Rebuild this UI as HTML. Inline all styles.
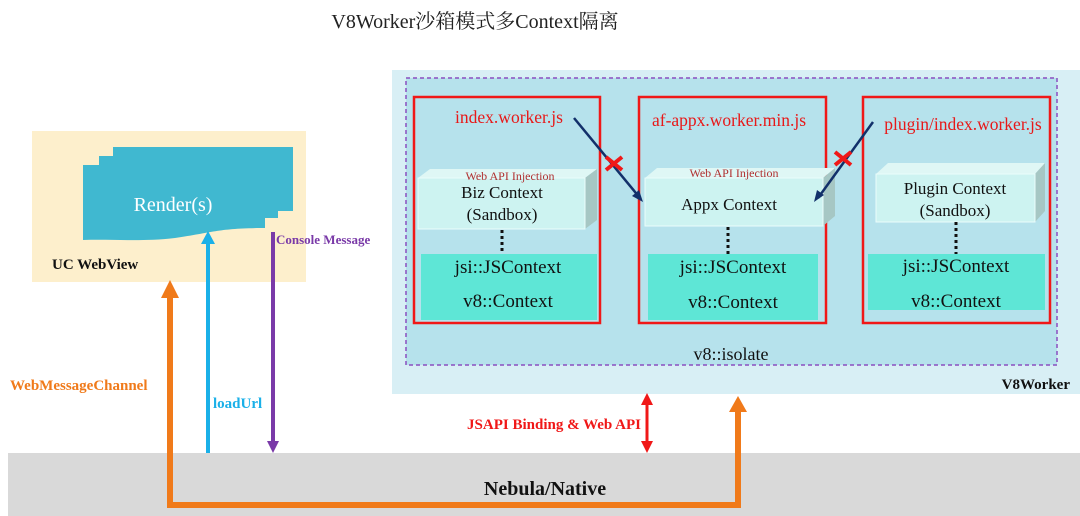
<!DOCTYPE html>
<html><head><meta charset="utf-8"><style>body{margin:0;background:#fff}svg{display:block}</style></head>
<body>
<svg width="1080" height="516" viewBox="0 0 1080 516" xmlns="http://www.w3.org/2000/svg" font-family="'Liberation Serif','Noto Serif CJK SC',serif">
<text x="475" y="28" font-size="20" text-anchor="middle" fill="#222">V8Worker沙箱模式多Context隔离</text>
<rect x="392" y="70" width="688" height="324" fill="#d8eff5"/>
<rect x="406" y="78" width="651" height="287" fill="#b6e2ec" stroke="#8a4fc0" stroke-width="1.5" stroke-dasharray="4,3"/>
<text x="1070" y="389" font-size="15" font-weight="bold" text-anchor="end" fill="#111">V8Worker</text>
<text x="731" y="360" font-size="18" text-anchor="middle" fill="#111">v8::isolate</text>
<g fill="none" stroke="#f01818" stroke-width="2.5">
<rect x="414" y="97" width="186" height="226"/>
<rect x="639" y="97" width="187" height="226"/>
<rect x="863" y="97" width="187" height="226"/>
</g>
<g font-size="17.5" fill="#e81818" text-anchor="middle">
<text x="509" y="123">index.worker.js</text>
<text x="729" y="126">af-appx.worker.min.js</text>
<text x="963" y="130">plugin/index.worker.js</text>
</g>
<g>
<path d="M418,178 L430,169 L597,169 L585,178 z" fill="#dff7f5"/>
<path d="M585,178 L597,169 L597,220 L585,229 z" fill="#a6c7c4"/>
<rect x="418" y="178" width="167" height="51" fill="#cdf3f1" stroke="#eafcfb"/>
<path d="M645,178 L657,168 L835,168 L823,178 z" fill="#dff7f5"/>
<path d="M823,178 L835,168 L835,216 L823,226 z" fill="#a6c7c4"/>
<rect x="645" y="178" width="178" height="48" fill="#cdf3f1" stroke="#eafcfb"/>
<path d="M876,174 L888,163 L1045,163 L1035,174 z" fill="#dff7f5"/>
<path d="M1035,174 L1045,163 L1045,211 L1035,222 z" fill="#a6c7c4"/>
<rect x="876" y="174" width="159" height="48" fill="#cdf3f1" stroke="#eafcfb"/>
</g>
<g font-size="12" fill="#b03030" text-anchor="middle">
<text x="510" y="180">Web API Injection</text>
<text x="734" y="177">Web API Injection</text>
</g>
<g font-size="17" fill="#111" text-anchor="middle">
<text x="502" y="198">Biz Context</text><text x="502" y="220">(Sandbox)</text>
<text x="729" y="210">Appx Context</text>
<text x="955" y="194">Plugin Context</text><text x="955" y="216">(Sandbox)</text>
</g>
<g stroke="#111" stroke-width="3" stroke-dasharray="3,3">
<line x1="502" y1="230" x2="502" y2="254"/>
<line x1="728" y1="227" x2="728" y2="254"/>
<line x1="956" y1="222" x2="956" y2="254"/>
</g>
<g fill="#5ee6d6">
<rect x="421" y="254" width="176" height="66"/>
<rect x="648" y="254" width="170" height="66"/>
<rect x="868" y="254" width="177" height="56"/>
</g>
<g font-size="19" fill="#111" text-anchor="middle">
<text x="508" y="273">jsi::JSContext</text><text x="508" y="307">v8::Context</text>
<text x="733" y="273">jsi::JSContext</text><text x="733" y="308">v8::Context</text>
<text x="956" y="272">jsi::JSContext</text><text x="956" y="307">v8::Context</text>
</g>
<g stroke="#12306a" stroke-width="2.5" fill="none">
<line x1="574" y1="118" x2="640" y2="198"/>
<line x1="873" y1="122" x2="818" y2="198"/>
</g>
<path d="M643,202 L632,196 L639,190 z" fill="#12306a"/>
<path d="M814,202 L817,190 L824,195 z" fill="#12306a"/>
<g stroke="#f01818" stroke-width="4">
<line x1="606" y1="157" x2="622" y2="170"/><line x1="622" y1="157" x2="606" y2="170"/>
<line x1="835" y1="152" x2="851" y2="165"/><line x1="851" y1="152" x2="835" y2="165"/>
</g>
<rect x="32" y="131" width="274" height="151" fill="#fdefcc"/>
<path d="M83,165 L99,165 L99,156 L113,156 L113,147 L293,147 L293,211 L278,211 L278,218 L265,218 L265,228 C220,228 215,232 175,238 C140,242 115,239 83,240 z" fill="#40b8d0"/>
<text x="173" y="211" font-size="20" fill="#fff" text-anchor="middle">Render(s)</text>
<text x="52" y="269" font-size="15" font-weight="bold" fill="#111">UC WebView</text>
<text x="276" y="244" font-size="13" font-weight="bold" fill="#7a3aa8">Console Message</text>
<rect x="8" y="453" width="1072" height="63" fill="#d9d9d9"/>
<text x="545" y="495" font-size="20" font-weight="bold" text-anchor="middle" fill="#111">Nebula/Native</text>
<path d="M170,296 L170,505 L738,505 L738,410" fill="none" stroke="#f07a1a" stroke-width="6"/>
<path d="M161,298 L170,280 L179,298 z" fill="#f07a1a"/>
<path d="M729,412 L738,396 L747,412 z" fill="#f07a1a"/>
<text x="10" y="390" font-size="15" font-weight="bold" fill="#f07a1a">WebMessageChannel</text>
<line x1="208" y1="453" x2="208" y2="242" stroke="#1ab0e8" stroke-width="4"/>
<path d="M201,244 L208,231 L215,244 z" fill="#1ab0e8"/>
<text x="213" y="408" font-size="15" font-weight="bold" fill="#1ab0e8">loadUrl</text>
<line x1="273" y1="232" x2="273" y2="443" stroke="#7a3aa8" stroke-width="4"/>
<path d="M267,441 L273,453 L279,441 z" fill="#7a3aa8"/>
<line x1="647" y1="402" x2="647" y2="444" stroke="#f01818" stroke-width="3"/>
<path d="M641,405 L647,393 L653,405 z M641,441 L647,453 L653,441 z" fill="#f01818"/>
<text x="641" y="429" font-size="15" font-weight="bold" text-anchor="end" fill="#f01818">JSAPI Binding &amp; Web API</text>
</svg>
</body></html>
